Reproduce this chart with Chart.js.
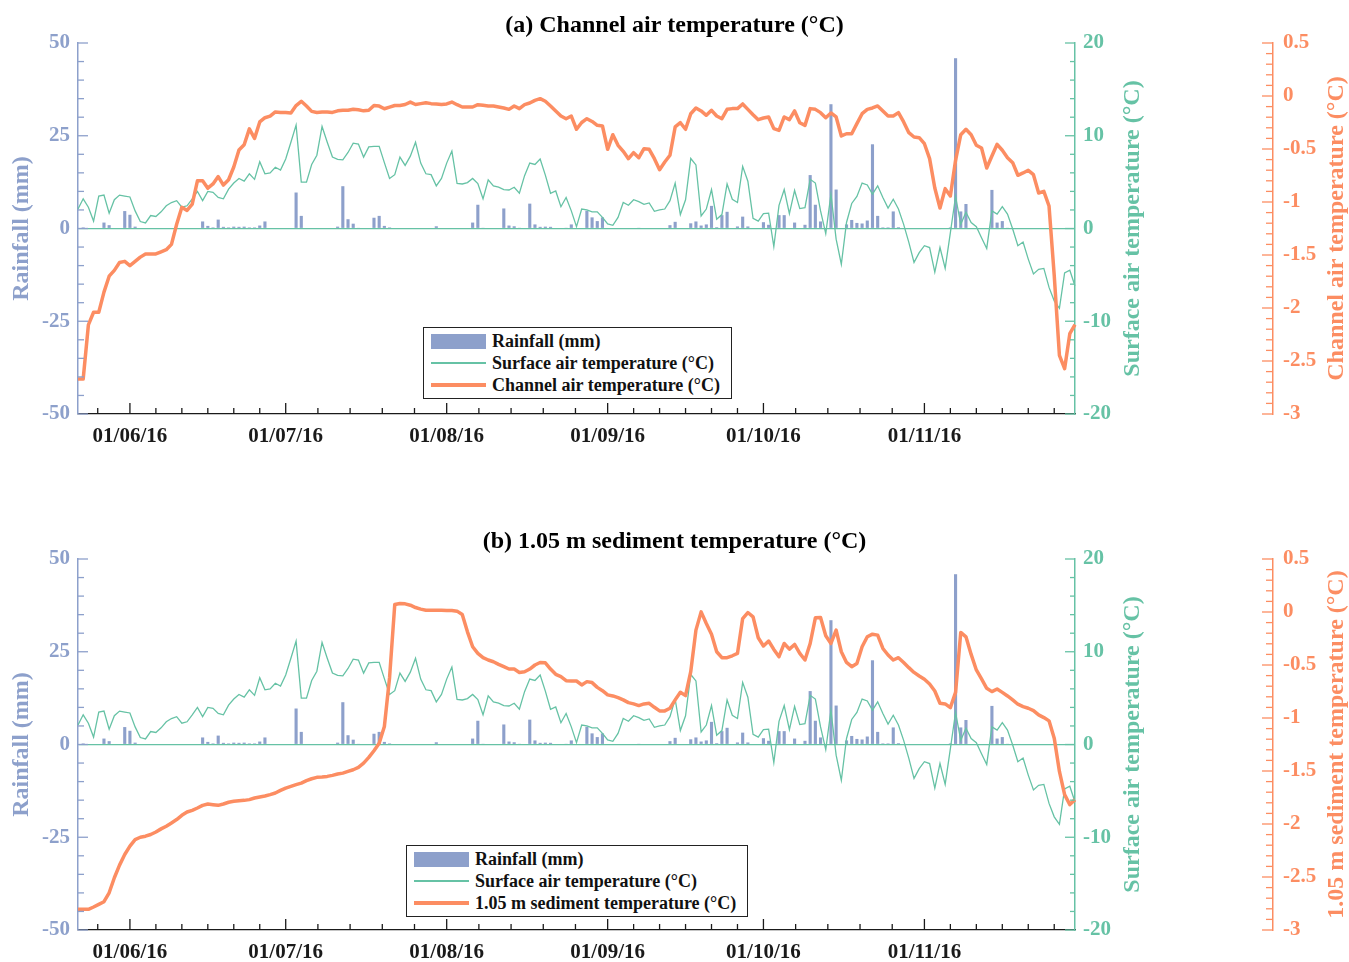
<!DOCTYPE html>
<html lang="en">
<head>
<meta charset="UTF-8">
<title>Channel air and 1.05 m sediment temperature</title>
<script src="https://cdn.jsdelivr.net/npm/chart.js"></script>
<style>
  html, body { margin: 0; padding: 0; background: #fff; overflow: hidden; }
  body { width: 1349px; height: 962px; position: relative; font-family: "Liberation Serif", "Times New Roman", serif; }
  .panel { position: absolute; left: 0; }
  .legend { position: absolute; border: 1.5px solid #222; background: #fff; padding: 2px 11px 2px 7px;
            font-weight: bold; font-size: 18px; color: #111; }
  .legend div { height: 22px; line-height: 22px; display: flex; align-items: center; white-space: nowrap; }
  .sw { display: inline-block; width: 55px; margin-right: 6px; }
  .sw.bar { height: 15px; background: #8da0cb; }
  .sw.thin { height: 1.3px; background: #66c2a5; }
  .sw.thick { height: 4px; background: #fc8d62; }
</style>
</head>
<body>
<canvas id="chartA" class="panel" style="top:2px" width="1349" height="516"></canvas>
<canvas id="chartB" class="panel" style="top:518px" width="1349" height="446"></canvas>

<div class="legend" style="left:423px; top:327px">
  <div><span class="sw bar"></span>Rainfall (mm)</div>
  <div><span class="sw thin"></span>Surface air temperature (°C)</div>
  <div><span class="sw thick"></span>Channel air temperature (°C)</div>
</div>
<div class="legend" style="left:406px; top:845px">
  <div><span class="sw bar"></span>Rainfall (mm)</div>
  <div><span class="sw thin"></span>Surface air temperature (°C)</div>
  <div><span class="sw thick"></span>1.05 m sediment temperature (°C)</div>
</div>

<script>
// daily series, 22/05/16 .. 30/11/16
const rainfall = [
  0, 0.3, 0, 0, 0, 1.6, 0.9, 0, 0, 4.7,
  3.7, 0.5, 0, 0, 0, 0, 0, 0, 0, 0,
  0, 0, 0, 0, 1.9, 0.7, 0.3, 2.4, 0.45, 0.3,
  0.5, 0.45, 0.5, 0.3, 0.3, 0.8, 1.9, 0, 0, 0,
  0, 0, 9.7, 3.4, 0, 0, 0, 0, 0, 0,
  0.5, 11.4, 2.5, 1.3, 0.1, 0, 0, 2.9, 3.4, 0.7,
  0.3, 0, 0, 0, 0, 0, 0, 0, 0, 0.6,
  0, 0, 0, 0, 0, 0, 1.6, 6.4, 0.2, 0,
  0, 0, 5.4, 0.8, 0.6, 0.2, 0, 6.7, 1.1, 0.45,
  0.5, 0.45, 0, 0, 0.2, 1.1, 0, 0, 4.8, 3.0,
  2.0, 3.0, 0, 0, 0, 0, 0, 0, 0.2, 0,
  0, 0, 0, 0, 0.9, 1.8, 0, 0, 1.4, 1.9,
  0.8, 1.1, 6.1, 0.35, 3.6, 4.5, 0, 0.55, 3.2, 0.55,
  0, 0, 1.7, 1.0, 0, 3.6, 3.6, 0, 1.6, 0,
  1.0, 14.4, 6.4, 1.9, 0, 33.5, 10.5, 0, 1.1, 2.3,
  1.5, 1.35, 2.15, 22.7, 3.4, 0.3, 0.3, 4.6, 0.35, 0,
  0, 0, 0, 0, 0, 0, 0, 0, 0.3, 45.9,
  4.6, 6.6, 0, 0, 0, 0, 10.4, 1.6, 2.0, 0.2,
  0, 0, 0, 0, 0, 0, 0, 0, 0, 0,
  0, 0, 0
];
const surfaceAir = [
  2.1, 3.2, 2.3, 0.8, 3.5, 3.6, 1.65, 3.1, 3.6, 3.5,
  3.4, 1.9, 0.75, 0.6, 1.4, 1.3, 1.8, 2.45, 2.8, 3.0,
  2.3, 2.45, 3.2, 4.0, 3.0, 4.0, 3.9, 3.35, 3.2, 4.25,
  4.9, 5.4, 5.1, 5.9, 5.3, 7.2, 5.9, 6.0, 6.6, 6.3,
  7.5, 9.3, 11.15, 5.0, 5.0, 6.9, 7.9, 11.0, 9.3, 7.7,
  7.45, 7.4, 8.2, 9.2, 9.1, 7.7, 8.8, 8.85, 8.85, 7.1,
  5.4, 5.8, 7.7, 6.8, 7.8, 9.3, 7.05, 5.9, 5.8, 4.6,
  5.4, 7.05, 8.35, 4.85, 4.8, 4.95, 5.4, 4.85, 3.2, 5.25,
  4.6, 4.45, 4.2, 4.15, 4.45, 3.8, 5.7, 7.05, 6.9, 7.5,
  5.75, 3.8, 4.05, 2.35, 3.35, 1.9, 0.2, 2.1, 2.0, 1.8,
  1.8, 1.2, 0.5, 0.35, 1.2, 2.8, 2.5, 3.1, 2.9, 2.6,
  2.75, 1.85, 2.0, 2.1, 3.0, 4.9, 1.5, 3.1, 7.55, 6.85,
  1.35, 2.1, 4.2, 1.0, 1.5, 4.8, 3.15, 2.8, 6.7, 5.1,
  1.1, 0.8, 1.6, 1.65, -1.95, 2.5, 4.2, 1.6, 4.1, 2.15,
  2.25, 5.3, 4.9, 1.9, -0.55, 3.7, -1.15, -3.85, 0.65, 2.7,
  3.45, 4.9, 4.7, 3.7, 4.6, 3.35, 2.2, 3.15, 2.1, 0.45,
  -1.5, -3.65, -2.6, -1.85, -2.05, -4.7, -2.05, -4.3, -0.45, 3.45,
  0.45, 1.75, 0.65, 0.2, -1.0, -2.15, 1.9, 1.55, 2.35, 1.55,
  -0.05, -1.85, -1.45, -3.3, -4.9, -4.4, -4.3, -6.35, -7.8, -8.6,
  -4.8, -4.5, -6.2
];
const channelAir = [
  -2.67, -2.67, -2.16, -2.04, -2.04, -1.85, -1.70, -1.645, -1.57, -1.56,
  -1.60, -1.56, -1.52, -1.49, -1.49, -1.49, -1.47, -1.45, -1.40, -1.21,
  -1.05, -1.08, -1.02, -0.80, -0.80, -0.87, -0.83, -0.76, -0.84, -0.79,
  -0.67, -0.51, -0.46, -0.31, -0.40, -0.245, -0.205, -0.19, -0.15, -0.155,
  -0.155, -0.16, -0.09, -0.05, -0.095, -0.145, -0.155, -0.15, -0.15, -0.155,
  -0.14, -0.135, -0.135, -0.125, -0.13, -0.14, -0.135, -0.09, -0.095, -0.12,
  -0.105, -0.09, -0.09, -0.08, -0.057, -0.08, -0.072, -0.063, -0.072, -0.075,
  -0.08, -0.075, -0.057, -0.082, -0.104, -0.104, -0.104, -0.082, -0.088, -0.094,
  -0.094, -0.104, -0.113, -0.126, -0.094, -0.119, -0.082, -0.066, -0.041, -0.025,
  -0.05, -0.094, -0.141, -0.189, -0.214, -0.189, -0.314, -0.25, -0.214, -0.24,
  -0.277, -0.283, -0.503, -0.365, -0.465, -0.522, -0.591, -0.535, -0.582, -0.497,
  -0.503, -0.591, -0.695, -0.623, -0.559, -0.292, -0.252, -0.314, -0.167, -0.113,
  -0.141, -0.182, -0.135, -0.189, -0.214, -0.126, -0.119, -0.119, -0.075, -0.126,
  -0.176, -0.223, -0.208, -0.198, -0.308, -0.324, -0.198, -0.223, -0.141, -0.252,
  -0.277, -0.119, -0.126, -0.157, -0.205, -0.16, -0.198, -0.377, -0.356, -0.356,
  -0.261, -0.167, -0.126, -0.113, -0.094, -0.142, -0.189, -0.189, -0.157, -0.245,
  -0.346, -0.387, -0.393, -0.45, -0.591, -0.868, -1.057, -0.874, -0.943, -0.607,
  -0.365, -0.314, -0.365, -0.465, -0.491, -0.679, -0.566, -0.456, -0.512, -0.582,
  -0.629, -0.748, -0.726, -0.701, -0.742, -0.915, -0.899, -1.038, -1.692, -2.446,
  -2.572, -2.242, -2.157
];
const sediment105 = [
  -2.805, -2.805, -2.805, -2.783, -2.758, -2.733, -2.649, -2.507, -2.388, -2.288,
  -2.209, -2.147, -2.125, -2.115, -2.099, -2.075, -2.046, -2.021, -1.99, -1.958,
  -1.918, -1.887, -1.871, -1.849, -1.824, -1.811, -1.818, -1.824, -1.811, -1.795,
  -1.786, -1.78, -1.777, -1.77, -1.755, -1.745, -1.736, -1.723, -1.708, -1.683,
  -1.661, -1.645, -1.629, -1.614, -1.591, -1.573, -1.56, -1.557, -1.551, -1.541,
  -1.529, -1.52, -1.504, -1.488, -1.466, -1.426, -1.372, -1.309, -1.238, -1.08,
  -0.62, 0.07, 0.08, 0.077, 0.064, 0.042, 0.027, 0.017, 0.017, 0.017,
  0.017, 0.014, 0.014, 0.008, -0.024, -0.187, -0.328, -0.391, -0.431, -0.453,
  -0.469, -0.494, -0.516, -0.538, -0.538, -0.57, -0.564, -0.538, -0.5, -0.476,
  -0.479, -0.538, -0.588, -0.61, -0.648, -0.651, -0.651, -0.688, -0.657, -0.666,
  -0.711, -0.742, -0.782, -0.792, -0.808, -0.829, -0.855, -0.867, -0.883, -0.867,
  -0.861, -0.899, -0.933, -0.933, -0.908, -0.829, -0.758, -0.789, -0.563, -0.171,
  0.001, -0.108, -0.209, -0.375, -0.431, -0.431, -0.413, -0.391, -0.062, -0.005,
  -0.046, -0.243, -0.321, -0.274, -0.353, -0.422, -0.297, -0.35, -0.306, -0.391,
  -0.453, -0.297, -0.055, -0.052, -0.224, -0.297, -0.171, -0.375, -0.476, -0.516,
  -0.485, -0.328, -0.234, -0.209, -0.218, -0.344, -0.406, -0.453, -0.431, -0.476,
  -0.525, -0.57, -0.604, -0.635, -0.679, -0.745, -0.861, -0.867, -0.902, -0.758,
  -0.193, -0.234, -0.4, -0.547, -0.632, -0.72, -0.751, -0.726, -0.758, -0.792,
  -0.829, -0.87, -0.892, -0.908, -0.93, -0.971, -0.996, -1.027, -1.19, -1.504,
  -1.723, -1.817, -1.77
];

const BLUE = '#8da0cb', GREEN = '#66c2a5', ORANGE = '#fc8d62', INK = '#1a1a1a';
const SERIF = '"Liberation Serif", "Times New Roman", serif';

// day labels dd/mm/yy
const t0 = Date.UTC(2016, 4, 22);
const dates = [];
for (let i = 0; i < rainfall.length; i++) {
  const d = new Date(t0 + i * 86400000);
  const p = n => String(n).padStart(2, '0');
  dates.push(p(d.getUTCDate()) + '/' + p(d.getUTCMonth() + 1) + '/16');
}
const dayIdx = (m, d) => (Date.UTC(2016, m, d) - t0) / 86400000;

// month starts (major) and equal sub-divisions (minor) on the time axis
const majorX = [], minorX = [];
for (let m = 4; m <= 10; m++) {
  const s = dayIdx(m, 1), len = dayIdx(m + 1, 1) - s;
  const step = len === 31 ? len / 5 : 5;
  if (s >= 0) majorX.push(s);
  for (let k = 1; k * step < len - 0.01; k++) {
    const v = s + k * step;
    if (v >= 0 && v <= dates.length - 1) minorX.push(v);
  }
}

function seg(ctx, x1, y1, x2, y2) {
  ctx.beginPath(); ctx.moveTo(x1, y1); ctx.lineTo(x2, y2); ctx.stroke();
}

// inward tick marks like the original figure
const tickMarks = {
  id: 'tickMarks',
  afterDraw(chart) {
    const {ctx, chartArea: ca, scales} = chart;
    ctx.save();
    ctx.lineWidth = 1.3;
    ctx.strokeStyle = BLUE;
    for (let v = -50; v <= 50; v += 5) {
      const y = scales.yR.getPixelForValue(v);
      seg(ctx, ca.left, y, ca.left + (v % 25 === 0 ? 10 : 6), y);
    }
    ctx.strokeStyle = GREEN;
    for (let v = -20; v <= 20; v += 2) {
      const y = scales.yT.getPixelForValue(v);
      seg(ctx, ca.right, y, ca.right - (v % 10 === 0 ? 10 : 5), y);
    }
    ctx.strokeStyle = ORANGE;
    const xc = scales.yC.left;
    for (let k = 0; k <= 35; k++) {
      const v = -3 + k * 0.1;
      const y = scales.yC.getPixelForValue(v);
      seg(ctx, xc, y, xc - (k % 5 === 0 ? 11 : 7), y);
    }
    ctx.strokeStyle = INK;
    majorX.forEach(v => { const x = scales.x.getPixelForValue(v); seg(ctx, x, ca.bottom, x, ca.bottom - 11); });
    minorX.forEach(v => { const x = scales.x.getPixelForValue(v); seg(ctx, x, ca.bottom, x, ca.bottom - 6); });
    ctx.restore();
  }
};

// rotated axis titles (all read bottom-to-top)
const axisTitles = {
  id: 'axisTitles',
  afterDraw(chart, args, opts) {
    const {ctx, chartArea: ca, scales} = chart;
    const cy = (ca.top + ca.bottom) / 2;
    const items = [
      [scales.yR.left + 22, BLUE, 'Rainfall (mm)'],
      [scales.yT.left + 58, GREEN, 'Surface air temperature (°C)'],
      [scales.yC.left + 64, ORANGE, opts.orange]
    ];
    ctx.save();
    ctx.font = 'bold 24px ' + SERIF;
    ctx.textAlign = 'center';
    ctx.textBaseline = 'middle';
    items.forEach(([x, color, text]) => {
      ctx.save();
      ctx.translate(x, cy);
      ctx.rotate(-Math.PI / 2);
      ctx.fillStyle = color;
      ctx.fillText(text, 0, 0);
      ctx.restore();
    });
    ctx.restore();
  }
};

const tickFont = { family: SERIF, size: 21, weight: 'bold' };

function makeChart(id, title, orangeLabel, orangeData, bottomPad) {
  return new Chart(document.getElementById(id), {
    type: 'bar',
    data: {
      labels: dates,
      datasets: [
        { type: 'line', label: orangeLabel, data: orangeData, yAxisID: 'yC',
          borderColor: ORANGE, borderWidth: 3.5, pointRadius: 0, borderJoinStyle: 'round', order: 1 },
        { type: 'line', label: 'Surface air temperature (°C)', data: surfaceAir, yAxisID: 'yT',
          borderColor: GREEN, borderWidth: 1.3, pointRadius: 0, order: 2 },
        { label: 'Rainfall (mm)', data: rainfall, yAxisID: 'yR', backgroundColor: BLUE,
          barPercentage: 0.6, categoryPercentage: 1, order: 3 }
      ]
    },
    options: {
      responsive: false,
      animation: false,
      layout: { padding: { left: 0, right: 0, top: 0, bottom: bottomPad } },
      plugins: {
        legend: { display: false },
        tooltip: { enabled: false },
        title: { display: true, text: title, color: '#000',
                 font: { family: SERIF, size: 24, weight: 'bold' }, padding: { top: 9.6, bottom: 2.6 } },
        axisTitles: { orange: orangeLabel }
      },
      scales: {
        x: {
          type: 'category', offset: false,
          grid: { display: false, drawTicks: false },
          border: { color: INK, width: 1.3 },
          ticks: { autoSkip: false, maxRotation: 0, padding: 10, color: INK, font: tickFont,
                   callback: v => dates[v].startsWith('01/') ? dates[v] : '' },
          afterFit: s => { s.height = 33; }
        },
        yR: {
          position: 'left', min: -50, max: 50,
          ticks: { stepSize: 25, padding: 8, color: BLUE, font: tickFont },
          grid: { drawTicks: false, lineWidth: 1.2,
                  color: c => c.tick && c.tick.value === 0 ? GREEN : 'rgba(0,0,0,0)' },
          border: { color: BLUE, width: 1.5 },
          afterFit: s => { s.width = 78; }
        },
        yT: {
          position: 'right', weight: 0, min: -20, max: 20,
          ticks: { stepSize: 10, padding: 8, color: GREEN, font: tickFont },
          grid: { display: false, drawTicks: false },
          border: { color: GREEN, width: 1.5 },
          afterFit: s => { s.width = 198; }
        },
        yC: {
          position: 'right', weight: 1, min: -3, max: 0.5,
          ticks: { stepSize: 0.5, padding: 10, color: ORANGE, font: tickFont,
                   callback: v => String(+v.toFixed(2)) },
          grid: { display: false, drawTicks: false },
          border: { color: ORANGE, width: 1.5 },
          afterFit: s => { s.width = 76; }
        }
      }
    },
    plugins: [tickMarks, axisTitles]
  });
}

makeChart('chartA', '(a) Channel air temperature (°C)', 'Channel air temperature (°C)', channelAir, 71);
makeChart('chartB', '(b) 1.05 m sediment temperature (°C)', '1.05 m sediment temperature (°C)', sediment105, 1);
</script>
</body>
</html>
